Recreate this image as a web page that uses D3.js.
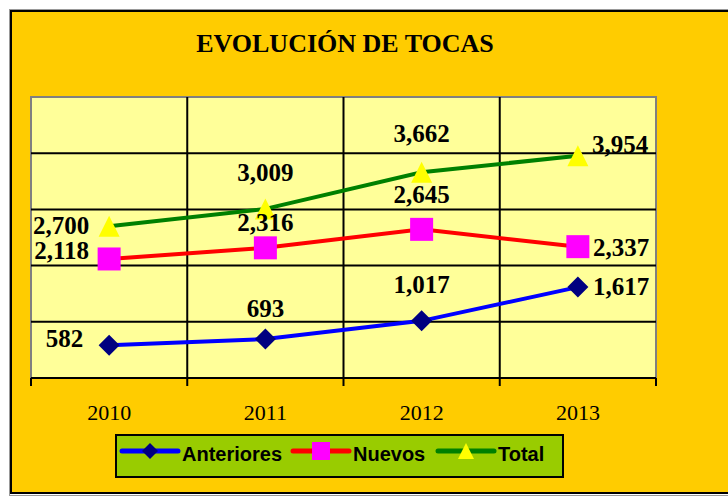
<!DOCTYPE html>
<html><head><meta charset="utf-8">
<script src="https://cdn.jsdelivr.net/npm/d3@7"></script>
<style>html,body{margin:0;padding:0;background:#fff;}svg{display:block;}</style>
</head><body>
<svg id="chart" width="728" height="496"></svg>
<script>
const title = "EVOLUCIÓN DE TOCAS";
const categories = ["2010", "2011", "2012", "2013"];
const seriesNames = ["Anteriores", "Nuevos", "Total"];
const anteriores = [582, 693, 1017, 1617];
const nuevos = [2118, 2316, 2645, 2337];
const total = [2700, 3009, 3662, 3954];
const yTicks = [0, 1000, 2000, 3000, 4000, 5000];

// styles
const styles = [
  {line: "#0000FF", fill: "#000080", shape: "diamond"},
  {line: "#FF0000", fill: "#FF00FF", shape: "square"},
  {line: "#008000", fill: "#FFFF00", shape: "triangle"}
];
// label offsets [dx, dy] per point
const labelOffsets = [
  [[-26, 2], [0, -22], [0, -28], [15, 8]],
  [[-20, 0], [0, -17], [0, -26], [15, 9]],
  [[-20, 8], [0, -28], [0, -30], [14, -3]]
];

const values = [anteriores, nuevos, total];
const fmt = d3.format(",");

const svg = d3.select("#chart");
// frame
svg.append("rect").attr("x", 9.5).attr("y", 9.5).attr("width", 730).attr("height", 486)
  .attr("fill", "none").attr("stroke", "#999").attr("stroke-width", 1);
svg.append("rect").attr("x", 11).attr("y", 11).attr("width", 730).attr("height", 482)
  .attr("fill", "#FFCC00").attr("stroke", "#000").attr("stroke-width", 2);

svg.append("text").attr("x", 345).attr("y", 52).attr("text-anchor", "middle")
  .attr("font-family", "Liberation Serif, Times New Roman, serif").attr("font-weight", "bold")
  .attr("font-size", 26).attr("fill", "#000").text(title);

const pLeft = 31, pRight = 656, pTop = 97, pBottom = 378;
const x = d3.scaleBand().domain(categories).range([pLeft, pRight]).padding(0);
const y = d3.scaleLinear().domain([0, 5000]).range([pBottom, pTop]);

// plot area
svg.append("rect").attr("x", pLeft).attr("y", pTop).attr("width", pRight - pLeft).attr("height", pBottom - pTop)
  .attr("fill", "#FFFF99").attr("stroke", "#808080").attr("stroke-width", 2);

// horizontal gridlines
svg.append("g").selectAll("line").data(yTicks.filter(t => t > 0 && t < 5000)).join("line")
  .attr("x1", pLeft).attr("x2", pRight).attr("y1", d => y(d)).attr("y2", d => y(d))
  .attr("stroke", "#000").attr("stroke-width", 2);
// vertical gridlines at category boundaries
const bounds = categories.slice(1).map(c => x(c));
svg.append("g").selectAll("line").data(bounds).join("line")
  .attr("x1", d => d).attr("x2", d => d).attr("y1", pTop).attr("y2", pBottom)
  .attr("stroke", "#000").attr("stroke-width", 2);

// x axis
const xAxis = svg.append("g").attr("transform", `translate(0,${pBottom})`);
xAxis.append("line").attr("x1", pLeft).attr("x2", pRight).attr("stroke", "#000").attr("stroke-width", 2);
const tickPos = categories.map(c => x(c)).concat([pRight]);
xAxis.selectAll("line.tk").data(tickPos).join("line").attr("class", "tk")
  .attr("x1", d => d).attr("x2", d => d).attr("y1", 0).attr("y2", 8)
  .attr("stroke", "#000").attr("stroke-width", 2);
xAxis.selectAll("text").data(categories).join("text")
  .attr("x", d => x(d) + x.bandwidth() / 2).attr("y", 42).attr("text-anchor", "middle")
  .attr("font-family", "Liberation Serif, Times New Roman, serif").attr("font-size", 22)
  .attr("fill", "#000").text(d => d);

function marker(g, shape, size) {
  if (shape === "diamond") {
    const s = size / 2;
    return g.append("path").attr("d", `M0,${-s}L${s},0L0,${s}L${-s},0Z`);
  } else if (shape === "square") {
    return g.append("rect").attr("x", -size / 2).attr("y", -size / 2).attr("width", size).attr("height", size);
  } else {
    const h = size, w = size;
    return g.append("path").attr("d", `M0,${-h/2}L${w/2},${h/2}L${-w/2},${h/2}Z`);
  }
}
const markerSizes = {diamond: 21, square: 23, triangle: 21};

const cx = c => x(c) + x.bandwidth() / 2;
const line = d3.line().x((d, i) => cx(categories[i])).y(d => y(d));

values.forEach((vals, si) => {
  const st = styles[si];
  const g = svg.append("g");
  g.append("path").datum(vals).attr("d", line).attr("fill", "none")
    .attr("stroke", st.line).attr("stroke-width", 4);
  vals.forEach((v, i) => {
    const mg = g.append("g").attr("transform", `translate(${cx(categories[i])},${y(v)})`);
    marker(mg, st.shape, markerSizes[st.shape]).attr("fill", st.fill);
  });
});
values.forEach((vals, si) => {
  const g = svg.append("g");
  vals.forEach((v, i) => {
    const off = labelOffsets[si][i];
    const anchor = i === 0 ? "end" : (i === vals.length - 1 ? "start" : "middle");
    g.append("text").attr("x", cx(categories[i]) + off[0]).attr("y", y(v) + off[1])
      .attr("text-anchor", anchor)
      .attr("font-family", "Liberation Serif, Times New Roman, serif").attr("font-weight", "bold")
      .attr("font-size", 25).attr("fill", "#000").text(fmt(v));
  });
});

// legend
const lg = svg.append("g");
lg.append("rect").attr("x", 116).attr("y", 435).attr("width", 447).attr("height", 42)
  .attr("fill", "#99CC00").attr("stroke", "#000").attr("stroke-width", 2);
const legX = [122, 293, 438];
const legMarker = {diamond: 16, square: 18, triangle: 16};
seriesNames.forEach((name, si) => {
  const st = styles[si];
  const g = lg.append("g").attr("transform", `translate(${legX[si]},451)`);
  g.append("line").attr("x1", 0).attr("x2", 56).attr("stroke", st.line).attr("stroke-width", 5)
    .attr("stroke-linecap", "round");
  const mg = g.append("g").attr("transform", "translate(28,0)");
  marker(mg, st.shape, legMarker[st.shape]).attr("fill", st.fill);
  g.append("text").attr("x", 60).attr("y", 10).attr("font-family", "Liberation Sans, Arial, sans-serif")
    .attr("font-weight", "bold").attr("font-size", 20).attr("fill", "#000").text(name);
});
</script>
</body></html>
